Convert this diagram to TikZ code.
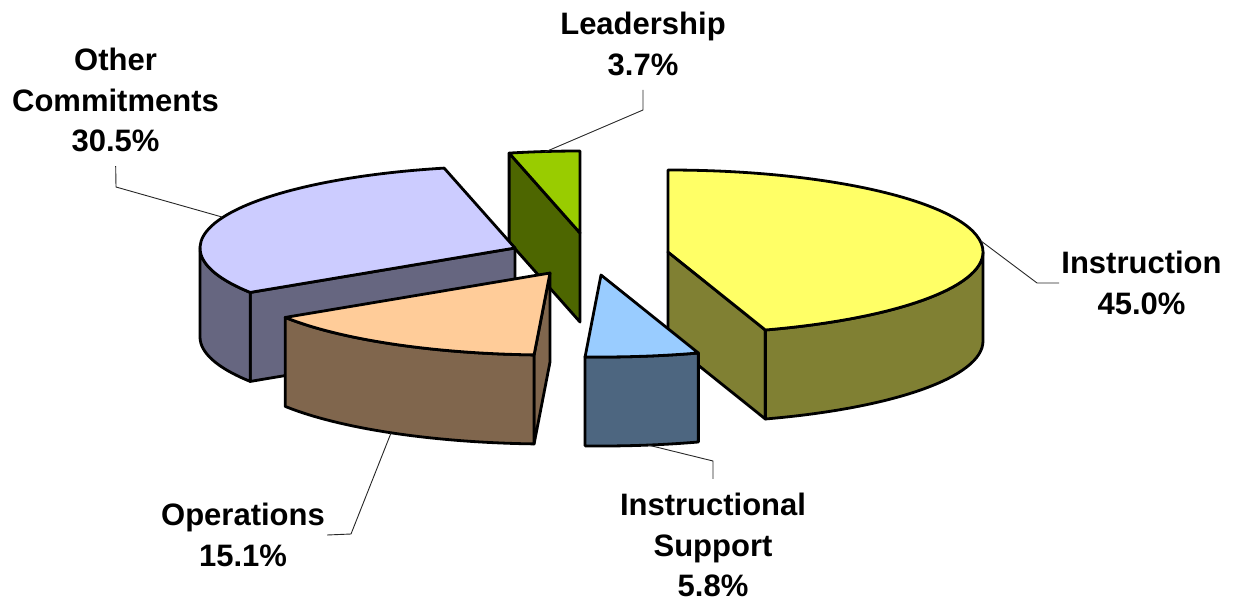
\documentclass[tikz,border=0pt]{standalone}
\usepackage{fontspec}
\setmainfont{Liberation Sans}
\usepackage{xcolor}

% slice colours (top face, side face)
\definecolor{instrtop}{HTML}{FFFF66}
\definecolor{instrside}{HTML}{808033}
\definecolor{supptop}{HTML}{99CCFF}
\definecolor{suppside}{HTML}{4D6680}
\definecolor{opertop}{HTML}{FFCC99}
\definecolor{operside}{HTML}{80664D}
\definecolor{othertop}{HTML}{CCCCFF}
\definecolor{otherside}{HTML}{666680}
\definecolor{leadtop}{HTML}{99CC00}
\definecolor{leadside}{HTML}{4D6600}

\begin{document}
\begin{tikzpicture}[x=1pt, y=-1pt,
    slice/.style={draw=black, line width=2.8pt, line join=round},
    ell/.style={x radius=315pt, y radius=82pt},
    leader/.style={draw=black!85, line width=0.9pt},
    lbl/.style={align=center, inner sep=2pt, font=\fontsize{31}{40.5}\selectfont\bfseries}]

    \useasboundingbox (0,0) rectangle (1239,603);

    % Slice centres (exploded)
    \coordinate (lead-c) at (580,233);
    \coordinate (other-c) at (515,248);
    \coordinate (instr-c) at (668,252);
    \coordinate (oper-c) at (550,273);
    \coordinate (supp-c) at (601,275);

    % Leadership
    \draw[slice, fill=leadside] (lead-c) -- ++(103:315pt and 82pt) -- ++(0,89) -- ++(283:315pt and 82pt) -- cycle;
    \draw[slice, fill=leadtop] (lead-c) -- ++(103:315pt and 82pt) arc[ell, start angle=103, end angle=90] -- cycle;

    % Other Commitments
    \draw[slice, fill=otherside] (other-c) -- ++(212.8:315pt and 82pt) -- ++(0,89) -- ++(32.8:315pt and 82pt) -- cycle;
    \draw[slice, fill=otherside] (other-c) ++(180:315pt and 82pt) arc[ell, start angle=180, end angle=212.8] -- ++(0,89) arc[ell, start angle=212.8, end angle=180] -- cycle;
    \draw[slice, fill=othertop] (other-c) -- ++(212.8:315pt and 82pt) arc[ell, start angle=212.8, end angle=103] -- cycle;

    % Instruction
    \draw[slice, fill=instrside] (instr-c) -- ++(-72:315pt and 82pt) -- ++(0,89) -- ++(108:315pt and 82pt) -- cycle;
    \draw[slice, fill=instrside] (instr-c) ++(0:315pt and 82pt) arc[ell, start angle=0, end angle=-72] -- ++(0,89) arc[ell, start angle=-72, end angle=0] -- cycle;
    \draw[slice, fill=instrtop] (instr-c) -- ++(90:315pt and 82pt) arc[ell, start angle=90, end angle=-72] -- cycle;

    % Operations
    \draw[slice, fill=operside] (oper-c) -- ++(-92.9:315pt and 82pt) -- ++(0,89) -- ++(87.1:315pt and 82pt) -- cycle;
    \draw[slice, fill=operside] (oper-c) ++(-92.9:315pt and 82pt) arc[ell, start angle=-92.9, end angle=-147.2] -- ++(0,89) arc[ell, start angle=-147.2, end angle=-92.9] -- cycle;
    \draw[slice, fill=opertop] (oper-c) -- ++(-92.9:315pt and 82pt) arc[ell, start angle=-92.9, end angle=-147.2] -- cycle;

    % Instructional Support
    \draw[slice, fill=suppside] (supp-c) ++(-72:315pt and 82pt) arc[ell, start angle=-72, end angle=-92.9] -- ++(0,89) arc[ell, start angle=-92.9, end angle=-72] -- cycle;
    \draw[slice, fill=supptop] (supp-c) -- ++(-72:315pt and 82pt) arc[ell, start angle=-72, end angle=-92.9] -- cycle;

    % Labels
    \node[lbl] (lead) at (643,44) {Leadership\\3.7\%};
    \node[lbl] (other) at (115.5,100) {Other\\Commitments\\30.5\%};
    \node[lbl] (instr) at (1141.5,283) {Instruction\\45.0\%};
    \node[lbl] (supp) at (713,545) {Instructional\\Support\\5.8\%};
    \node[lbl] (oper) at (243,535) {Operations\\15.1\%};

    % Leader lines
    \coordinate (lead-pt) at (545,152);
    \coordinate (other-pt) at (222,217);
    \coordinate (instr-pt) at (981,241);
    \coordinate (oper-pt) at (391,433);
    \coordinate (supp-pt) at (648,445);
    \draw[leader, shorten >=12pt] (lead-pt) -- (643,110) -- (lead.south);
    \draw[leader, shorten >=12pt] (other-pt) -- (116,187) -- (other.south);
    \draw[leader] (instr-pt) -- (1037,283) -- (instr.west);
    \draw[leader] (oper-pt) -- (351,534) -- (oper.east);
    \draw[leader, shorten >=12pt] (supp-pt) -- (713,461) -- (supp.north);
\end{tikzpicture}
\end{document}
